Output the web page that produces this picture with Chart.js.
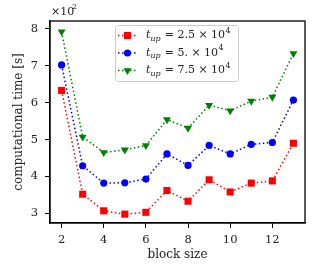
<!DOCTYPE html>
<html>
<head>
<meta charset="utf-8">
<script src="https://cdn.jsdelivr.net/npm/chart.js@4/dist/chart.umd.min.js"></script>
<style>
  html, body { margin: 0; padding: 0; background: #fff; }
  #wrap { width: 332px; height: 266px; position: relative; }
</style>
</head>
<body>
<div id="wrap"><canvas id="timeChart"></canvas></div>
<script>
// block sizes and computational times (units of 10^2 s)
const blockSizes = [2, 3, 4, 5, 6, 7, 8, 9, 10, 11, 12, 13];
const timeUp25 = [6.33, 3.52, 3.07, 2.98, 3.03, 3.62, 3.33, 3.91, 3.58, 3.82, 3.88, 4.90];
const timeUp50 = [7.02, 4.29, 3.82, 3.83, 3.93, 4.61, 4.30, 4.84, 4.61, 4.87, 4.92, 6.07];
const timeUp75 = [7.92, 5.07, 4.65, 4.72, 4.84, 5.54, 5.31, 5.93, 5.78, 6.04, 6.15, 7.33];
const seriesMantissa = ['2.5', '5.', '7.5'];
const xTicks = [2, 4, 6, 8, 10, 12];
const yTicks = [3, 4, 5, 6, 7, 8];

const FONT = 'DejaVu Serif';

function toPoints(values) {
    return values.map((v, i) => ({ x: blockSizes[i], y: v }));
}

function makeDataset(values, color, style, radius, rotation, label) {
    return {
        label: label,
        data: toPoints(values),
        borderColor: color,
        backgroundColor: color,
        borderWidth: 1.5,
        borderDash: [1.5, 2.5],
        pointStyle: style,
        pointRadius: radius,
        pointRotation: rotation,
        pointBorderWidth: 0,
        pointBackgroundColor: color,
        tension: 0
    };
}

// frame around the plot, the x10^2 offset text and the legend box
const decorations = {
    id: 'decorations',
    afterDraw(chart) {
        const ctx = chart.ctx;
        const a = chart.chartArea;
        ctx.save();
        ctx.strokeStyle = '#000';
        ctx.lineWidth = 1.3;
        ctx.strokeRect(a.left, a.top, a.right - a.left, a.bottom - a.top);

        // offset text
        ctx.fillStyle = '#222';
        ctx.textBaseline = 'alphabetic';
        ctx.font = '11px "' + FONT + '"';
        ctx.fillText('\u00d710', 51, 15);
        ctx.font = '8px "' + FONT + '"';
        ctx.fillText('2', 72, 9);

        // legend
        const bx = 115.5, by = 25.5, bw = 123, bh = 56;
        ctx.beginPath();
        ctx.roundRect(bx, by, bw, bh, 3);
        ctx.fillStyle = 'rgba(255,255,255,0.85)';
        ctx.fill();
        ctx.strokeStyle = '#cccccc';
        ctx.lineWidth = 1;
        ctx.stroke();

        chart.data.datasets.forEach((ds, i) => {
            const y = 35.5 + i * 17.5;
            ctx.strokeStyle = ds.borderColor;
            ctx.lineWidth = 1.5;
            ctx.setLineDash([1.5, 2.5]);
            ctx.beginPath();
            ctx.moveTo(118, y);
            ctx.lineTo(137, y);
            ctx.stroke();
            ctx.setLineDash([]);
            ctx.fillStyle = ds.borderColor;
            Chart.helpers.drawPoint(ctx, {
                pointStyle: ds.pointStyle,
                radius: ds.pointRadius,
                rotation: ds.pointRotation,
                borderWidth: 0
            }, 127.5, y);

            ctx.fillStyle = '#222';
            ctx.textBaseline = 'middle';
            let x = 146;
            ctx.font = 'italic 11px "' + FONT + '"';
            ctx.fillText('t', x, y);
            x += ctx.measureText('t').width;
            ctx.font = 'italic 8px "' + FONT + '"';
            ctx.fillText('up', x, y + 3);
            x += ctx.measureText('up').width + 4;
            ctx.font = '11px "' + FONT + '"';
            const txt = '= ' + seriesMantissa[i] + ' \u00d7 10';
            ctx.fillText(txt, x, y);
            x += ctx.measureText(txt).width + 0.5;
            ctx.font = '8px "' + FONT + '"';
            ctx.fillText('4', x, y - 5);
        });
        ctx.restore();
    }
};

new Chart(document.getElementById('timeChart'), {
    type: 'line',
    data: {
        datasets: [
            makeDataset(timeUp25, '#ff0000', 'rect', 5, 0, 'tup = 2.5 x 10^4'),
            makeDataset(timeUp50, '#0000ff', 'circle', 3.6, 0, 'tup = 5. x 10^4'),
            makeDataset(timeUp75, '#008000', 'triangle', 4.6, 180, 'tup = 7.5 x 10^4')
        ]
    },
    options: {
        responsive: true,
        maintainAspectRatio: false,
        animation: false,
        layout: {
            padding: { top: 21, right: 27, left: 0, bottom: 0 }
        },
        plugins: {
            legend: { display: false },
            tooltip: { enabled: false }
        },
        scales: {
            x: {
                type: 'linear',
                min: 1.45,
                max: 13.55,
                afterBuildTicks: scale => { scale.ticks = xTicks.map(v => ({ value: v })); },
                afterFit: scale => { scale.height = 43; },
                border: { display: true, color: '#000', width: 1.3 },
                grid: { drawOnChartArea: false, drawTicks: true, tickLength: 5, color: '#000', tickWidth: 1 },
                ticks: { color: '#222', padding: 5, font: { family: FONT, size: 11.5 }, maxRotation: 0 },
                title: {
                    display: true,
                    text: 'block size',
                    color: '#222',
                    font: { family: FONT, size: 12 },
                    padding: { top: 0, bottom: 4 }
                }
            },
            y: {
                type: 'linear',
                min: 2.74,
                max: 8.21,
                afterBuildTicks: scale => { scale.ticks = yTicks.map(v => ({ value: v })); },
                afterFit: scale => { scale.width = 50; },
                border: { display: true, color: '#000', width: 1.3 },
                grid: { drawOnChartArea: false, drawTicks: true, tickLength: 5, color: '#000', tickWidth: 1 },
                ticks: { color: '#222', padding: 7, font: { family: FONT, size: 11.5 } },
                title: {
                    display: true,
                    text: 'computational time [s]',
                    color: '#222',
                    font: { family: FONT, size: 12 },
                    padding: { top: 12, bottom: 0 }
                }
            }
        }
    },
    plugins: [decorations]
});
</script>
</body>
</html>
